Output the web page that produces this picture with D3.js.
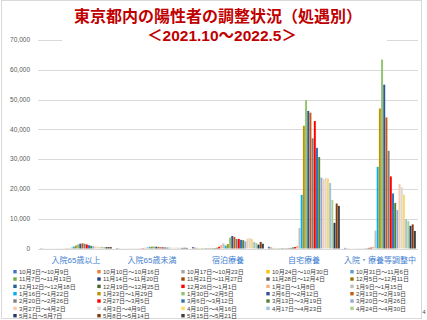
<!DOCTYPE html>
<meta charset="utf-8">
<style>
  body { margin: 0; background: #fff; }
  svg { display: block; font-family: "Liberation Sans", "Noto Sans CJK JP", sans-serif; }
</style>
<svg width="427" height="320"></svg>
<script src="https://cdn.jsdelivr.net/npm/d3@7"></script>
<script>
var categories = ["入院65歳以上", "入院65歳未満", "宿泊療養", "自宅療養", "入院・療養等調整中"];

var weeks = ["10月3日～10月9日","10月10日～10月16日","10月17日～10月23日","10月24日～10月30日","10月31日～11月6日",
  "11月7日～11月13日","11月14日～11月20日","11月21日～11月27日","11月28日～12月4日","12月5日～12月11日",
  "12月12日～12月18日","12月19日～12月25日","12月26日～1月1日","1月2日～1月8日","1月9日～1月15日",
  "1月16日～1月22日","1月23日～1月29日","1月30日～2月5日","2月6日～2月12日","2月13日～2月19日",
  "2月20日～2月26日","2月27日～3月5日","3月6日～3月12日","3月13日～3月19日","3月20日～3月26日",
  "3月27日～4月2日","4月3日～4月9日","4月10日～4月16日","4月17日～4月23日","4月24日～4月30日",
  "5月1日～5月7日","5月8日～5月14日","5月15日～5月21日"];

var colors = ["#4472C4","#ED7D31","#A5A5A5","#FFC000","#5B9BD5",
  "#70AD47","#264478","#9E480E","#636363","#997300",
  "#255E91","#43682B","#FF0000","#F4B183","#BFBFBF",
  "#00B0F0","#BF9000","#92C46E","#2F5597","#C55A11",
  "#7F7F7F","#FF0000","#2E75B6","#548235","#8FAADC",
  "#F8CBAD","#D9D9D9","#FFD966","#9DC3E6","#A9D18E",
  "#203864","#843C0C","#404040"];

// 週ごとの人数（カテゴリ別）
var hosp65over  = [90,60,40,30,25,20,20,20,20,25,30,40,70,150,350,650,1000,1350,1600,1750,1600,1350,1100,900,750,650,600,600,550,500,450,500,450];
var hosp65under = [150,90,60,40,30,30,30,30,30,35,40,60,120,250,450,550,650,650,600,550,450,400,350,300,300,300,250,250,250,200,200,250,200];
var hotel       = [500,300,200,150,120,100,100,100,110,130,150,250,600,1200,1750,1000,1500,3650,4200,3900,3200,3200,2900,2800,2400,3300,3500,3200,2200,1850,1300,2200,1600];
var home        = [600,350,200,150,120,100,100,100,120,150,200,350,500,900,6900,18000,41200,49800,46200,45600,37000,42800,33800,30700,23800,23300,23700,23500,22000,16300,8600,15100,14300];
var adjusting   = [200,100,60,40,30,30,30,30,40,60,100,200,300,600,6000,27400,47000,63400,55000,44000,32800,24200,18500,15300,12900,21700,20600,18100,9900,9200,7600,8100,5900];

var yTicks = [0,10000,20000,30000,40000,50000,60000,70000];

var series = [hosp65over, hosp65under, hotel, home, adjusting];

var svg = d3.select("svg");

// 外枠
svg.append("rect")
  .attr("x", 1.5).attr("y", 0.5).attr("width", 420).attr("height", 318)
  .attr("fill", "none").attr("stroke", "#D9D9D9");

var x0 = d3.scaleBand().domain(categories).range([38, 418]).paddingInner(0.05).paddingOuter(0.025);
var x1 = d3.scaleBand().domain(d3.range(weeks.length)).range([0, x0.bandwidth()]);
var y = d3.scaleLinear().domain([0, 70000]).range([248.5, 40]);

// grid
svg.append("g").selectAll("line").data(yTicks).join("line")
  .attr("x1", 38).attr("x2", 418)
  .attr("y1", function(d) { return Math.round(y(d)) + 0.5; })
  .attr("y2", function(d) { return Math.round(y(d)) + 0.5; })
  .attr("stroke", "#D9D9D9").attr("stroke-width", 1);

svg.append("g").selectAll("text").data(yTicks).join("text")
  .attr("x", 30).attr("y", function(d) { return y(d) + 2.3; })
  .attr("text-anchor", "end").attr("font-size", 6.5).attr("fill", "#595959")
  .text(d3.format(","));

// bars
var groups = svg.append("g").selectAll("g").data(categories).join("g")
  .attr("transform", function(c) { return "translate(" + x0(c) + ",0)"; });

groups.selectAll("rect")
  .data(function(c, ci) { return weeks.map(function(w, i) { return { i: i, v: series[ci][i] }; }); })
  .join("rect")
  .attr("x", function(d) { return x1(d.i); })
  .attr("width", x1.bandwidth() - 0.25)
  .attr("y", function(d) { return y(d.v); })
  .attr("height", function(d) { return y(0) - y(d.v); })
  .attr("fill", function(d) { return colors[d.i]; });

// category labels
svg.append("g").selectAll("text").data(categories).join("text")
  .attr("x", function(c) { return x0(c) + x0.bandwidth() / 2; })
  .attr("y", 262.5)
  .attr("text-anchor", "middle").attr("font-size", 8).attr("fill", "#3F80CF")
  .text(function(c) { return c; });

// title (白背景)
svg.append("rect").attr("x", 62).attr("y", 2).attr("width", 325).attr("height", 42).attr("fill", "#fff");
svg.append("text").attr("x", 218).attr("y", 22)
  .attr("text-anchor", "middle").attr("font-size", 16).attr("font-weight", "bold").attr("fill", "#C00000")
  .text("東京都内の陽性者の調整状況（処遇別）");
svg.append("text").attr("x", 222).attr("y", 40.5)
  .attr("text-anchor", "middle").attr("font-size", 15.5).attr("font-weight", "bold").attr("fill", "#C00000")
  .text("＜2021.10～2022.5＞");

// legend
var legX = [15, 99, 183, 268, 352];
var leg = svg.append("g").selectAll("g").data(weeks).join("g")
  .attr("transform", function(d, i) {
    return "translate(" + legX[i % 5] + "," + (271.7 + Math.floor(i / 5) * 7.33) + ")";
  });
leg.append("rect").attr("x", -1.7).attr("y", -1.7).attr("width", 3.4).attr("height", 3.4)
  .attr("fill", function(d, i) { return colors[i]; });
leg.append("text").attr("x", 4).attr("y", 2.2)
  .attr("font-size", 6).attr("fill", "#404040")
  .text(function(d) { return d; });

// page number
svg.append("text").attr("x", 424).attr("y", 314).attr("text-anchor", "middle")
  .attr("font-size", 5.5).attr("fill", "#404040").text("4");
</script>
